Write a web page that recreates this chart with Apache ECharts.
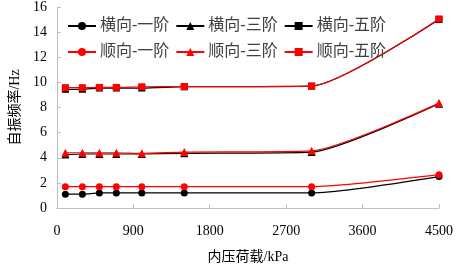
<!DOCTYPE html>
<html>
<head>
<meta charset="utf-8">
<script src="https://cdn.jsdelivr.net/npm/echarts@6/dist/echarts.min.js"></script>
<style>
  html, body { margin: 0; padding: 0; background: #fff; }
  #chart { width: 456px; height: 269px; }
</style>
</head>
<body>
<div id="chart"></div>
<script>
    // 内压荷载 (kPa)
    var pressures = [100, 300, 500, 700, 1000, 1500, 3000, 4500];
    var xTicks = [0, 900, 1800, 2700, 3600, 4500];
    var yTicks = [0, 2, 4, 6, 8, 10, 12, 14, 16];

    var seriesNames = ['横向-一阶', '横向-三阶', '横向-五阶', '顺向-一阶', '顺向-三阶', '顺向-五阶'];
    var heng1 = [1.1, 1.1, 1.2, 1.2, 1.2, 1.2, 1.2, 2.5];
    var heng3 = [4.25, 4.3, 4.3, 4.3, 4.3, 4.35, 4.45, 8.3];
    var heng5 = [9.45, 9.45, 9.55, 9.55, 9.55, 9.65, 9.7, 15.0];
    var shun1 = [1.7, 1.7, 1.7, 1.7, 1.7, 1.7, 1.7, 2.65];
    var shun3 = [4.4, 4.4, 4.4, 4.4, 4.35, 4.45, 4.55, 8.35];
    var shun5 = [9.58, 9.58, 9.6, 9.6, 9.65, 9.66, 9.7, 15.05];

    var serif = '"Liberation Serif", "Noto Sans CJK SC", serif';

    function pairs(vals) {
        var out = [];
        for (var i = 0; i < pressures.length; i++) {
            out.push([pressures[i], vals[i]]);
        }
        return out;
    }

    function makeSeries(name, vals, color, symbol, size) {
        return {
            name: name,
            type: 'line',
            smooth: 0.2,
            data: pairs(vals),
            symbol: symbol,
            symbolSize: size,
            lineStyle: { color: color, width: 1.2 },
            itemStyle: { color: color },
            z: color === '#000000' ? 2 : 3
        };
    }

    var myChart = echarts.init(document.getElementById('chart'));
    var option = {
        backgroundColor: '#ffffff',
        animation: false,
        grid: { left: 52, right: 17, top: 7, bottom: 59 },
        legend: [
            {
                left: 62, top: 13,
                itemWidth: 28, itemHeight: 10, itemGap: 6,
                data: seriesNames.slice(0, 3),
                textStyle: { fontFamily: serif, fontSize: 16, color: '#404040', padding: [0, 0, 0, -1] }
            },
            {
                left: 62, top: 39,
                itemWidth: 28, itemHeight: 10, itemGap: 6,
                data: seriesNames.slice(3, 6),
                textStyle: { fontFamily: serif, fontSize: 16, color: '#404040', padding: [0, 0, 0, -1] }
            }
        ],
        xAxis: {
            type: 'value',
            min: xTicks[0],
            max: xTicks[xTicks.length - 1],
            interval: 900,
            name: '内压荷载/kPa',
            nameLocation: 'middle',
            nameGap: 42,
            nameTextStyle: { fontFamily: serif, fontSize: 14, color: '#000' },
            axisLine: { lineStyle: { color: '#bfbfbf' } },
            axisTick: { inside: true, length: 4, lineStyle: { color: '#bfbfbf' } },
            axisLabel: {
                fontFamily: serif, fontSize: 14, color: '#000', margin: 16,
                formatter: function (v) { return String(v); }
            },
            splitLine: { show: false }
        },
        yAxis: {
            type: 'value',
            min: yTicks[0],
            max: yTicks[yTicks.length - 1],
            interval: 2,
            name: '自振频率/Hz',
            nameLocation: 'middle',
            nameGap: 33,
            nameTextStyle: { fontFamily: serif, fontSize: 14, color: '#000' },
            axisLine: { show: true, lineStyle: { color: '#bfbfbf' } },
            axisTick: { show: true, inside: true, length: 4, lineStyle: { color: '#bfbfbf' } },
            axisLabel: { fontFamily: serif, fontSize: 14, color: '#000', margin: 10 },
            splitLine: { show: false }
        },
        series: [
            makeSeries(seriesNames[0], heng1, '#000000', 'circle', 7),
            makeSeries(seriesNames[1], heng3, '#000000', 'triangle', 8),
            makeSeries(seriesNames[2], heng5, '#000000', 'rect', 7),
            makeSeries(seriesNames[3], shun1, '#ff0000', 'circle', 7),
            makeSeries(seriesNames[4], shun3, '#ff0000', 'triangle', 8),
            makeSeries(seriesNames[5], shun5, '#ff0000', 'rect', 7)
        ]
    };
    myChart.setOption(option);
</script>
</body>
</html>
